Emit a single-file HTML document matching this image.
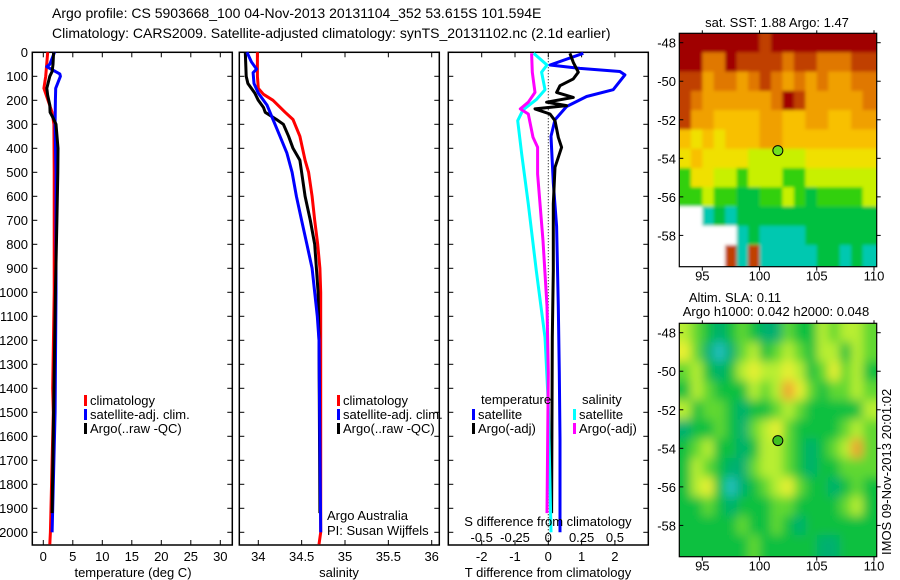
<!DOCTYPE html>
<html><head><meta charset="utf-8"><title>Argo profile</title>
<style>
html,body{margin:0;padding:0;background:#fff;}
svg{display:block;font-family:"Liberation Sans",Arial,sans-serif;}
text{font-size:13px;fill:#000;}
</style></head>
<body>
<svg id="fig" width="900" height="580" viewBox="0 0 900 580" xmlns="http://www.w3.org/2000/svg">
<defs>
<filter id="blurSla" x="-5%" y="-5%" width="110%" height="110%"><feGaussianBlur stdDeviation="5"/></filter>
<filter id="blurSst" x="-5%" y="-5%" width="110%" height="110%"><feGaussianBlur stdDeviation="1.5"/></filter>
<clipPath id="clipSst"><rect x="679.3" y="33.3" width="197.4" height="233.4"/></clipPath>
<clipPath id="clipSla"><rect x="679.3" y="323.3" width="197.4" height="233.4"/></clipPath>
</defs>
<rect x="0" y="0" width="900" height="580" fill="#fff"/>
<text x="52" y="18" style="font-size:14px">Argo profile: CS 5903668_100 04-Nov-2013 20131104_352 53.615S 101.594E</text>
<text x="52" y="38" style="font-size:14px">Climatology: CARS2009. Satellite-adjusted climatology: synTS_20131102.nc (2.1d earlier)</text>
<g id="layer"></g>
</svg>
<script>
// ---------------- data ----------------
const depthTicks=[0,100,200,300,400,500,600,700,800,900,1000,1100,1200,1300,1400,1500,1600,1700,1800,1900,2000];
const tempTicks=[0,5,10,15,20,25,30];
const salTicks=[34,34.5,35,35.5,36];
const salTickLabels=["34","34.5","35","35.5","36"];
const tdiffTicks=[-2,-1,0,1,2];
const sdiffTickLabels=["-0.5","-0.25","0","0.25","0.5"];
const sdiffTicks=[-0.5,-0.25,0,0.25,0.5];

const tClimDepth=[0,100,150,200,250,300,500,1000,1400,1500,2000,2050];
const tClimVal=[0.75,0.4,0.1,0.8,1.5,1.8,1.85,1.85,1.6,1.7,1.2,1.1];
const tSatDepth=[0,50,60,90,100,150,200,300,500,1000,1500,2000];
const tSatVal=[1.9,1.1,0.6,2.8,2.9,2.1,2.05,2.0,2.15,2.15,2.0,1.5];
const tArgoDepth=[0,50,80,100,130,150,180,220,250,270,300,400,500,700,1000,1500,1920];
const tArgoVal=[1.75,1.65,1.5,1.1,0.8,0.6,0.75,1.1,1.15,1.6,2.15,2.5,2.45,2.3,2.05,1.75,1.5];

const sClimDepth=[0,100,150,175,200,250,280,350,450,500,600,700,800,900,1000,1200,2000,2050];
const sClimVal=[33.99,33.99,34.0,34.06,34.17,34.31,34.4,34.48,34.54,34.58,34.62,34.65,34.685,34.71,34.72,34.72,34.72,34.70];
const sSatDepth=[0,40,70,85,130,170,220,280,350,420,500,600,700,800,900,1000,1100,1200,2000];
const sSatVal=[33.87,33.92,33.98,33.94,33.95,34.0,34.1,34.17,34.25,34.33,34.39,34.44,34.5,34.56,34.62,34.65,34.68,34.7,34.72];
const sArgoDepth=[0,100,130,170,200,230,250,280,300,350,400,450,600,700,800,900,1000,1200,1920];
const sArgoVal=[33.85,33.86,33.88,33.96,34.0,34.06,34.08,34.21,34.29,34.35,34.4,34.48,34.54,34.6,34.65,34.67,34.69,34.7,34.71];

const dtSatDepth=[4,53,67,80,94,156,184,226,281,350,544,725,1058,1335,1613,2000];
const dtSatVal=[1.05,0.05,0.95,2.15,2.3,1.95,1.15,0.55,0.2,0.08,0.15,0.25,0.3,0.33,0.35,0.35];
const dtArgoDepth=[4,42,83,111,139,167,188,208,222,236,257,285,354,396,479,632,910,1188,1920];
const dtArgoVal=[0.65,0.75,0.9,0.75,0.35,0.25,0.75,-0.05,0.55,-0.4,0.05,0.2,0.3,0.4,0.2,0.15,0.15,0.12,0.1];
const dsSatDepth=[4,53,83,156,197,240,285,424,632,910,1188,1465,2000];
const dsSatVal=[-0.11,-0.01,-0.05,-0.025,-0.09,-0.19,-0.23,-0.2,-0.15,-0.09,-0.025,0,0.02];
const dsArgoDepth=[4,83,167,208,236,257,354,396,507,785,1058,1335,1920];
const dsArgoVal=[-0.125,-0.12,-0.1,-0.15,-0.21,-0.15,-0.115,-0.08,-0.08,-0.04,-0.01,0,-0.01];

const mapLonTicks=[95,100,105,110];
const mapLatTicks=[48,50,52,54,56,58];
const floatLon=101.6, floatLat=53.6;
// SST colour-class grid, rows lat 48..59, cols lon 93..109 (0 = no data)
const sstGrid=[
[10,10,10,10,10,10,10,9,10,10,10,10,10,10,10,10,10],
[10,10,8,8,10,9,9,9,9,8,9,9,8,8,8,9,9],
[9,9,7,8,8,7,8,9,8,7,8,7,8,7,7,8,8],
[9,8,7,7,7,7,7,7,8,10,9,7,7,7,7,7,8],
[9,7,7,6,6,6,6,7,7,6,6,7,7,6,6,7,7],
[6,5,6,5,6,6,6,7,7,6,6,6,6,6,6,6,6],
[5,6,5,5,5,5,4,4,4,4,4,5,5,5,5,5,5],
[3,5,5,4,4,3,4,4,4,3,3,4,4,4,4,4,4],
[3,3,4,3,3,2,2,3,3,4,3,2,3,3,3,3,4],
[0,0,1,2,1,2,2,2,2,2,2,2,2,2,2,2,2],
[0,0,0,0,0,1,2,1,1,1,1,2,2,2,2,2,2],
[0,0,0,0,9,1,9,1,1,1,1,1,2,2,1,2,1]];
const slaGrid=[
[5,4,3,2,3,4,3,2,2,4,3,3,5,4,5,5,4],
[6,4,2,1,2,4,5,3,4,5,4,3,5,5,3,5,4],
[4,5,3,2,3,5,6,5,5,6,5,3,4,6,4,5,3],
[3,5,4,3,3,3,5,4,5,7,6,4,3,4,4,5,4],
[5,3,4,4,3,2,3,3,4,5,4,3,3,3,3,3,5],
[2,3,3,4,3,2,4,5,6,4,3,3,3,3,4,5,4],
[3,4,5,3,3,2,3,5,5,4,3,2,3,4,5,7,4],
[3,5,4,3,2,2,4,5,5,4,3,2,3,3,4,4,4],
[3,5,6,3,1,2,3,4,5,6,4,3,3,2,3,4,3],
[3,3,4,3,2,3,3,3,4,4,3,3,3,3,4,5,3],
[3,3,3,3,3,4,3,3,4,3,2,3,3,3,3,3,3],
[3,3,3,3,3,3,4,3,3,3,3,3,2,2,3,3,3]];
const sstColors=["#ffffff","#00c8b0","#00c040","#30d010","#c8f000","#f0e000","#f8c000","#f0a000","#e07800","#c04000","#a00000"];
const slaColors=["#ffffff","#20c0c0","#00b070","#10c040","#60d830","#b8ee30","#e8f030","#f0a030"];

// ---------------- helpers ----------------
const NS="http://www.w3.org/2000/svg";
const layer=document.getElementById('layer');
function mk(tag,attrs,parent){const e=document.createElementNS(NS,tag);for(const k in attrs)e.setAttribute(k,attrs[k]);(parent||layer).appendChild(e);return e;}
function txt(x,y,s,anchor,size,parent){const t=mk('text',{x:x,y:y,'text-anchor':anchor||'start'},parent);if(size)t.style.fontSize=size+'px';t.textContent=s;return t;}
function lin(d0,d1,r0,r1){return v=>r0+(v-d0)*(r1-r0)/(d1-d0);}
const yD=lin(0,1000,52.3,292.3);
const TOP=52.3,BOT=545;

function panel(name,x0,x1,xs,ticks){
  const g=mk('g',{});
  
  
  const r=mk('rect',{x:x0,y:TOP,width:x1-x0,height:BOT-TOP,fill:'none',stroke:'#000','stroke-width':1.5},g);
  
  
  depthTicks.forEach(d=>{
    mk('line',{x1:x0,x2:x0+5,y1:yD(d),y2:yD(d),stroke:'#000'},g);
    mk('line',{x1:x1,x2:x1-5,y1:yD(d),y2:yD(d),stroke:'#000'},g);
  });
  ticks.forEach(v=>{
    mk('line',{x1:xs(v),x2:xs(v),y1:TOP,y2:TOP+5,stroke:'#000'},g);
    mk('line',{x1:xs(v),x2:xs(v),y1:BOT,y2:BOT-5,stroke:'#000'},g);
  });
  return g;
}
function profile(name,g,depths,vals,xs,color,w){
  const pts=depths.map((d,i)=>xs(vals[i]).toFixed(1)+','+yD(d).toFixed(1)).join(' ');
  const p=mk('polyline',{points:pts,fill:'none',stroke:color,'stroke-width':w||3,'stroke-linejoin':'round'},g);
  
  
  return p;
}
function legendEntry(g,name,x,y,color,label){
  const b=mk('rect',{x:x,y:y-10,width:3,height:11,fill:color},g);
  
  
  const t=txt(x+6,y,label,'start',13,g);
  
  
}

// depth axis labels
const ya=mk('g',{});


depthTicks.forEach(d=>{txt(28,yD(d)+4.5,String(d),'end',13,ya);});

// ---- temperature panel ----
const xT=lin(0,30,43.3,220.3);
const g1=panel('temperature',32.3,232.3,xT,tempTicks);
tempTicks.forEach(v=>txt(xT(v),561,String(v),'middle',13,g1));
const xl1=txt(133,577,'temperature (deg C)','middle',13,g1);


profile('temp-climatology-line',g1,tClimDepth,tClimVal,xT,'#ff0000');
profile('temp-satellite-line',g1,tSatDepth,tSatVal,xT,'#0000ff');
profile('temp-argo-line',g1,tArgoDepth,tArgoVal,xT,'#000000');
legendEntry(g1,'legend-climatology',84,405,'#ff0000','climatology');
legendEntry(g1,'legend-satellite-adj',84,419,'#0000ff','satellite-adj. clim.');
legendEntry(g1,'legend-argo',84,433,'#000000','Argo(..raw -QC)');

// ---- salinity panel ----
const xS=lin(34,36,258.3,431.7);
const g2=panel('salinity',239.3,439.3,xS,salTicks);
salTicks.forEach((v,i)=>txt(xS(v),561,salTickLabels[i],'middle',13,g2));
const xl2=txt(339,577,'salinity','middle',13,g2);


profile('sal-climatology-line',g2,sClimDepth,sClimVal,xS,'#ff0000');
profile('sal-argo-line',g2,sArgoDepth,sArgoVal,xS,'#000000');
profile('sal-satellite-line',g2,sSatDepth,sSatVal,xS,'#0000ff');
legendEntry(g2,'legend-sal-climatology',337,405,'#ff0000','climatology');
legendEntry(g2,'legend-sal-satellite-adj',337,419,'#0000ff','satellite-adj. clim.');
legendEntry(g2,'legend-sal-argo',337,433,'#000000','Argo(..raw -QC)');
const c1=txt(327,520,'Argo Australia','start',13,g2);


const c2=txt(327,535,'PI: Susan Wijffels','start',13,g2);



// ---- difference panel ----
const xDT=lin(0,1,548.3,581.6);
const xDS=lin(0,0.25,548.3,581.6);
const g3=panel('difference',448.3,648.3,xDT,tdiffTicks);
const zl=mk('line',{x1:xDT(0),x2:xDT(0),y1:TOP,y2:BOT,stroke:'#000','stroke-dasharray':'1,2'},g3);


profile('dt-satellite-line',g3,dtSatDepth,dtSatVal,xDT,'#0000ff');
profile('dt-argo-line',g3,dtArgoDepth,dtArgoVal,xDT,'#000000');
profile('ds-satellite-line',g3,dsSatDepth,dsSatVal,xDS,'#00ffff');
profile('ds-argo-line',g3,dsArgoDepth,dsArgoVal,xDS,'#ff00ff');
tdiffTicks.forEach(v=>txt(xDT(v),561,String(v),'middle',13,g3));
sdiffTicks.forEach((v,i)=>txt(xDS(v),542,sdiffTickLabels[i],'middle',13,g3));
const t3a=txt(548,526,'S difference from climatology','middle',13,g3);


const t3b=txt(548,577,'T difference from climatology','middle',13,g3);


const lt=txt(481,404,'temperature','start',13,g3);


const ls=txt(582,404,'salinity','start',13,g3);


legendEntry(g3,'legend-t-satellite',472,419,'#0000ff','satellite');
legendEntry(g3,'legend-t-argo',472,433,'#000000','Argo(-adj)');
legendEntry(g3,'legend-s-satellite',573,419,'#00ffff','satellite');
legendEntry(g3,'legend-s-argo',573,433,'#ff00ff','Argo(-adj)');

// ---- maps ----
function drawMap(name,top,bot,grid,colors,titles,clipId,filterId){
  const g=mk('g',{});
  
  
  const L=679.3,R=876.7;
  const xm=lin(95,110,702.3,874);
  const ym=lin(48,58,top+9.4,top+9.4+192.7*(bot-top)/233.4);
  const lonMin=93, lonMax=110.24, latMin=47.52, latMax=59.63;
  const clipG=mk('g',{'clip-path':'url(#'+clipId+')'},g);
  const cells=mk('g',{filter:'url(#'+filterId+')'},clipG);
  
  
  grid.forEach((row,i)=>{
    row.forEach((v,j)=>{
      const a=(j===0)?lonMin-1:93+j, b=(j===row.length-1)?lonMax+1:94+j;
      const c=(i===0)?latMin-1:47.5+i, d=(i===grid.length-1)?latMax+1:48.5+i;
      const r=mk('rect',{x:xm(a).toFixed(1),y:ym(c).toFixed(1),width:(xm(b)-xm(a)+0.6).toFixed(1),height:(ym(d)-ym(c)+0.6).toFixed(1),fill:colors[v]},cells);
      
      
    });
  });
  const f=mk('rect',{x:L,y:top,width:R-L,height:bot-top,fill:'none',stroke:'#000','stroke-width':1.2},g);
  
  
  mapLatTicks.forEach(v=>{
    mk('line',{x1:L,x2:L+4,y1:ym(v),y2:ym(v),stroke:'#000'},g);
    mk('line',{x1:R,x2:R+4,y1:ym(v),y2:ym(v),stroke:'#000'},g);
    txt(676,ym(v)+5,'-'+v,'end',13,g);
  });
  mapLonTicks.forEach(v=>{
    mk('line',{x1:xm(v),x2:xm(v),y1:bot,y2:bot+4,stroke:'#000'},g);
    mk('line',{x1:xm(v),x2:xm(v),y1:top,y2:top-3,stroke:'#000'},g);
    txt(xm(v),bot+14,String(v),'middle',13,g);
  });
  const m=mk('circle',{cx:xm(floatLon),cy:ym(floatLat),r:5,fill:name==='sst-map'?'#70e020':'#40c020',stroke:'#000','stroke-width':1},g);
  
  
  titles.forEach((t,k)=>{
    const tt=txt(t[1],t[2],t[0],'middle',13,g);
    
    
  });
}
drawMap('sst-map',33.3,266.7,sstGrid,sstColors,[['sat. SST: 1.88 Argo: 1.47',777,27]],'clipSst','blurSst');
drawMap('sla-map',323.3,556.7,slaGrid,slaColors,[['Altim. SLA: 0.11',735,302],['Argo h1000: 0.042 h2000: 0.048',776,316]],'clipSla','blurSla');
const im=mk('text',{x:0,y:0,transform:'translate(891,555) rotate(-90)','text-anchor':'start'});
im.style.fontSize='13px';
im.textContent='IMOS 09-Nov-2013 20:01:02';


</script>
</body></html>
